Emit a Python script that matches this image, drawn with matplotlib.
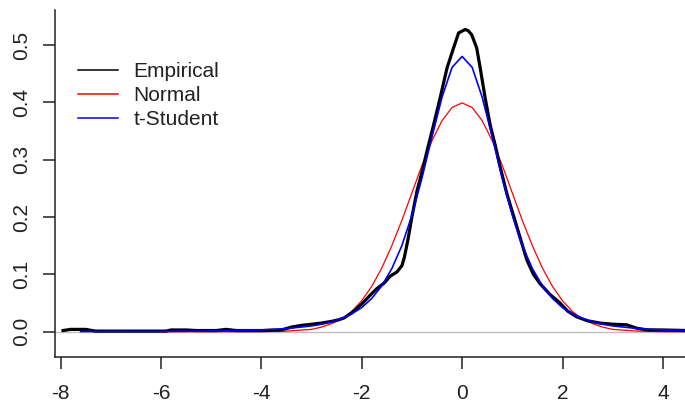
import matplotlib
matplotlib.use("Agg")
import matplotlib.pyplot as plt
from matplotlib.lines import Line2D

# empirical density (black)
emp_x = [-7.95, -7.8, -7.5, -7.3, -6.5, -5.9, -5.8, -5.5, -5.3, -4.9, -4.7, -4.5,
         -4.0, -3.6, -3.4, -3.2, -3.0, -2.8, -2.6, -2.45, -2.35, -2.2, -2.0, -1.85,
         -1.7, -1.55, -1.43, -1.3, -1.2, -1.15, -1.08, -1.0, -0.9, -0.78, -0.7,
         -0.57, -0.44, -0.3, -0.17, -0.07, 0.06, 0.12, 0.19, 0.29, 0.36, 0.46, 0.56,
         0.66, 0.75, 0.89, 1.09, 1.29, 1.42, 1.55, 1.75, 1.95, 2.1, 2.28, 2.5, 2.75,
         3.0, 3.28, 3.38, 3.48, 3.7, 4.0, 4.5]
emp_y = [0.002, 0.004, 0.004, 0.001, 0.001, 0.001, 0.003, 0.003, 0.002, 0.002, 0.004, 0.002,
         0.002, 0.003, 0.008, 0.011, 0.013, 0.015, 0.018, 0.021, 0.024, 0.033, 0.048, 0.062,
         0.075, 0.085, 0.097, 0.104, 0.115, 0.130, 0.160, 0.200, 0.245, 0.285, 0.315,
         0.360, 0.407, 0.460, 0.495, 0.521, 0.527, 0.525, 0.518, 0.495, 0.460, 0.407, 0.360,
         0.325, 0.290, 0.241, 0.183, 0.125, 0.100, 0.084, 0.065, 0.050, 0.036, 0.026, 0.019, 0.015,
         0.013, 0.012, 0.009, 0.006, 0.003, 0.003, 0.002]

# fitted normal (red)
norm_x = [-5.9, -4.0, -3.5, -3.0, -2.8, -2.6, -2.4, -2.2, -2.0, -1.8, -1.6, -1.4, -1.2,
          -1.0, -0.8, -0.6, -0.4, -0.2, 0.0, 0.2, 0.4, 0.6, 0.8, 1.0, 1.2, 1.4, 1.6,
          1.8, 2.0, 2.2, 2.4, 2.6, 2.8, 3.0, 3.5, 4.0, 4.5]
norm_y = [0.0, 0.0001, 0.001, 0.004, 0.008, 0.014, 0.022, 0.035, 0.054, 0.079, 0.111, 0.150, 0.194,
          0.242, 0.290, 0.333, 0.368, 0.391, 0.399, 0.391, 0.368, 0.333, 0.290, 0.242, 0.194, 0.150, 0.111,
          0.079, 0.054, 0.035, 0.022, 0.014, 0.008, 0.004, 0.001, 0.0001, 0.0]

# fitted t-Student (blue)
t_x = [-7.6, -6.0, -5.0, -4.0, -3.5, -3.0, -2.8, -2.6, -2.4, -2.2, -2.0, -1.8, -1.6, -1.4,
       -1.2, -1.0, -0.8, -0.6, -0.4, -0.2, 0.0, 0.2, 0.4, 0.6, 0.8, 1.0, 1.2, 1.4, 1.6,
       1.8, 2.0, 2.2, 2.4, 2.6, 2.8, 3.0, 3.5, 4.0, 4.5]
t_y = [0.0003, 0.0005, 0.0012, 0.003, 0.0054, 0.010, 0.013, 0.017, 0.023, 0.031, 0.042, 0.058, 0.080, 0.110,
       0.150, 0.203, 0.268, 0.340, 0.409, 0.461, 0.480, 0.461, 0.409, 0.340, 0.268, 0.203, 0.150, 0.110, 0.080,
       0.058, 0.042, 0.031, 0.023, 0.017, 0.013, 0.010, 0.0054, 0.003, 0.0022]

x_ticks = [-8, -6, -4, -2, 0, 2, 4]
y_ticks = [0.0, 0.1, 0.2, 0.3, 0.4, 0.5]
labels = ["Empirical", "Normal", "t-Student"]
colors = ["black", "#ff0000", "#0000ff"]


def plot_graph():
    plt.rcParams["font.family"] = ["Liberation Sans", "DejaVu Sans"]
    fig = plt.figure(figsize=(6.85, 4.05), dpi=100)
    ax = fig.add_axes([0.0803, 0.1193, 0.9197, 0.856])

    ax.axhline(0, color="#bebebe", lw=1.0, zorder=1)
    ax.plot(norm_x, norm_y, color=colors[1], lw=0.9, zorder=2)
    ax.plot(emp_x, emp_y, color=colors[0], lw=2.3, zorder=3, solid_joinstyle="round")
    ax.plot(t_x, t_y, color=colors[2], lw=1.2, zorder=4)

    ax.set_xlim(-8.11, 4.44)
    ax.set_ylim(-0.0436, 0.561)
    ax.set_xticks(x_ticks)
    ax.set_xticklabels([str(v) for v in x_ticks])
    ax.set_yticks(y_ticks)
    ax.set_yticklabels(["%.1f" % v for v in y_ticks], rotation=90, va="center")

    for s in ["top", "right"]:
        ax.spines[s].set_visible(False)
    for s in ["left", "bottom"]:
        ax.spines[s].set_linewidth(1.1)
        ax.spines[s].set_color("#222222")
    ax.tick_params(axis="both", direction="out", length=8.5, width=1.1,
                   color="#222222", labelsize=15, labelcolor="#222222")
    ax.tick_params(axis="x", pad=11)
    ax.tick_params(axis="y", pad=9)

    handles = [Line2D([], [], color=c, lw=1.1) for c in colors]
    ax.legend(handles, labels, loc="upper left", frameon=False, fontsize=15,
              bbox_to_anchor=(78 / 685, 1 - 62 / 405), bbox_transform=fig.transFigure,
              borderpad=0, borderaxespad=0, handlelength=1.9, handletextpad=0.75,
              labelspacing=0.25, labelcolor="#222222")

    fig.savefig("out.png", dpi=100)


def main():
    plot_graph()


if __name__ == "__main__":
    main()
